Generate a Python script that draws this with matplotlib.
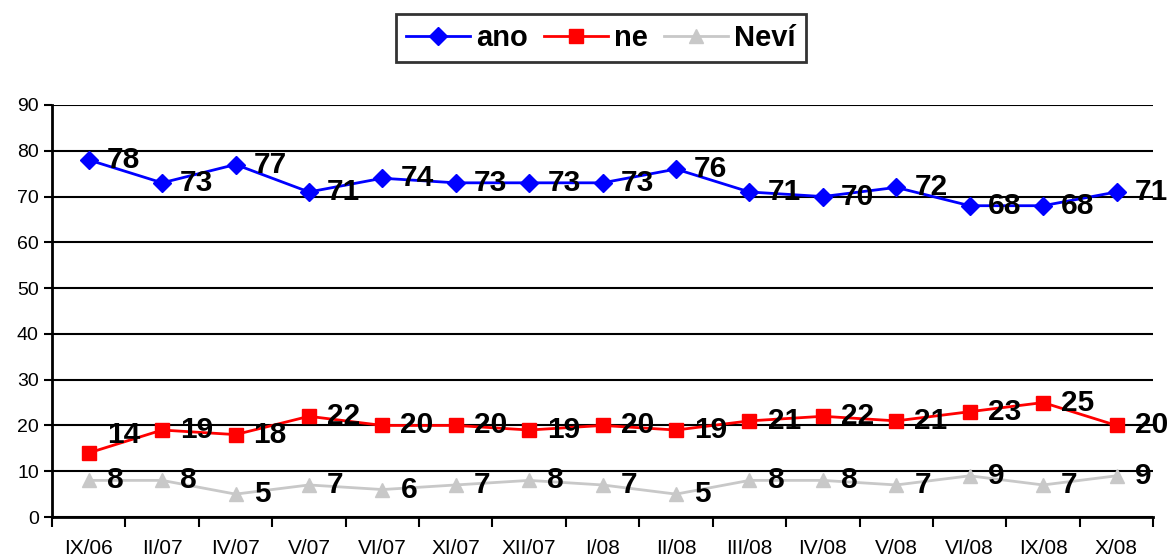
import matplotlib
matplotlib.use('Agg')
import matplotlib.pyplot as plt
import numpy as np

plt.rcParams['font.family'] = ['Liberation Sans', 'DejaVu Sans']

# data
obdobi = ['IX/06', 'II/07', 'IV/07', 'V/07', 'VI/07', 'XI/07', 'XII/07', 'I/08',
          'II/08', 'III/08', 'IV/08', 'V/08', 'VI/08', 'IX/08', 'X/08']
ano = [78, 73, 77, 71, 74, 73, 73, 73, 76, 71, 70, 72, 68, 68, 71]
ne = [14, 19, 18, 22, 20, 20, 19, 20, 19, 21, 22, 21, 23, 25, 20]
nevi = [8, 8, 5, 7, 6, 7, 8, 7, 5, 8, 8, 7, 9, 7, 9]

fig = plt.figure(figsize=(11.69, 5.57), dpi=100)
ax = fig.add_axes([0.0445, 0.0718, 0.942, 0.7397])

x = np.arange(len(obdobi))

l1, = ax.plot(x, ano, color='#0000FF', lw=2, marker='D', ms=9, label='ano', zorder=3)
l2, = ax.plot(x, ne, color='#FF0000', lw=2, marker='s', ms=10, label='ne', zorder=3)
l3, = ax.plot(x, nevi, color='#C8C8C8', lw=2, marker='^', ms=10, label='Neví', zorder=3)

# popisky hodnot vpravo od bodu
for serie in [ano, ne, nevi]:
    for i, v in enumerate(serie):
        dy = 0
        if serie is ne and i == 0:
            dy = 13  # v originale posunuto nahoru
        ax.annotate(str(v), (i, v), xytext=(13, dy), textcoords='offset points',
                    ha='left', va='center', fontsize=21.5, fontweight='bold',
                    annotation_clip=False, zorder=4)

ax.set_xlim(-0.5, len(obdobi) - 0.5)
ax.set_ylim(0, 90)
ax.set_yticks(np.arange(0, 91, 10))
ax.yaxis.grid(True, color='black', lw=1.5)
ax.set_axisbelow(True)

ax.set_xticks(x)
ax.set_xticklabels(obdobi, fontsize=15)
ax.set_xticks(np.arange(-0.5, len(obdobi)), minor=True)
ax.tick_params(axis='x', which='major', length=0, pad=16)
ax.tick_params(axis='x', which='minor', length=7, width=1.5, direction='out')
ax.tick_params(axis='y', labelsize=14, length=6, width=1.5, direction='out')

for s in ['top', 'right']:
    ax.spines[s].set_visible(False)
ax.spines['left'].set_linewidth(2)
ax.spines['bottom'].set_linewidth(2)

leg = fig.legend(handles=[l1, l2, l3], loc='center', bbox_to_anchor=(0.514, 0.932),
                 ncol=3, prop={'weight': 'bold', 'size': 21},
                 frameon=True, fancybox=False, edgecolor='black',
                 handlelength=2.2, handletextpad=0.2, columnspacing=0.55,
                 borderpad=0.35, markerscale=1.0)
leg.get_frame().set_linewidth(2)

plt.savefig('out.png', dpi=100)
